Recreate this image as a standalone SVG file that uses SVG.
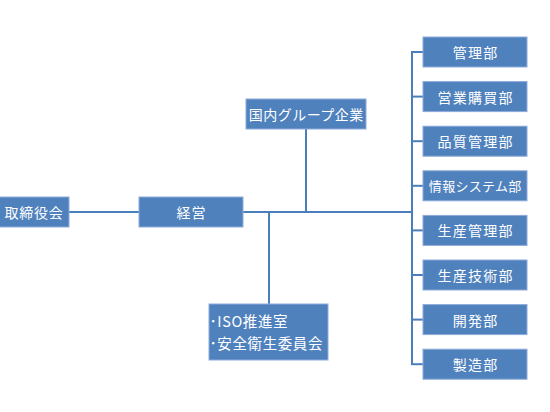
<svg xmlns="http://www.w3.org/2000/svg" width="550" height="412" viewBox="0 0 550 412">
<style>
.box{fill:#4F81BD;stroke:#8EAADB;stroke-width:1}
.t{font-family:"Noto Sans CJK JP","Noto Sans",sans-serif;font-size:14px;fill:#fff;text-anchor:middle;dominant-baseline:central}
.d{letter-spacing:1.2px}
.tl{font-family:"Noto Sans CJK JP","Noto Sans",sans-serif;font-size:14.5px;letter-spacing:0.6px;fill:#fff;dominant-baseline:central}
.ln{stroke:#4A7EBB;stroke-width:2;fill:none}
</style>
<rect width="550" height="412" fill="#fff"/>
<g id="connectors">
<line class="ln" x1="69" y1="212" x2="139" y2="212"/>
<line class="ln" x1="243" y1="212" x2="412" y2="212"/>
<line class="ln" x1="306" y1="129" x2="306" y2="212"/>
<line class="ln" x1="269" y1="212" x2="269" y2="304"/>
<line class="ln" x1="412" y1="52" x2="412" y2="364"/>
<line class="ln" x1="411" y1="52" x2="423" y2="52"/>
<line class="ln" x1="411" y1="96.6" x2="423" y2="96.6"/>
<line class="ln" x1="411" y1="141.2" x2="423" y2="141.2"/>
<line class="ln" x1="411" y1="185.8" x2="423" y2="185.8"/>
<line class="ln" x1="411" y1="230.4" x2="423" y2="230.4"/>
<line class="ln" x1="411" y1="275" x2="423" y2="275"/>
<line class="ln" x1="411" y1="319.6" x2="423" y2="319.6"/>
<line class="ln" x1="411" y1="364.2" x2="423" y2="364.2"/>
</g>
<g id="torishimariyakukai"><rect class="box" x="-1" y="197" width="70" height="30"/><text class="t" x="34" y="212" style="letter-spacing:0.8px">取締役会</text></g>
<g id="keiei"><rect class="box" x="139" y="197" width="104" height="30"/><text class="t" x="191.5" y="212" style="letter-spacing:1px">経営</text></g>
<g id="kokunai"><rect class="box" x="246" y="99" width="120" height="30"/><text class="t" x="306.3" y="114" style="letter-spacing:0.5px">国内グループ企業</text></g>
<g id="iso"><rect class="box" x="209" y="304" width="119" height="56"/><text class="tl" x="209.5" y="320">･ISO推進室</text><text class="tl" x="209.5" y="342.5">･安全衛生委員会</text></g>
<g id="kanri"><rect class="box" x="423" y="37" width="104" height="30"/><text class="t d" x="475.6" y="52">管理部</text></g>
<g id="eigyo"><rect class="box" x="423" y="81.6" width="104" height="30"/><text class="t d" x="475.6" y="96.6">営業購買部</text></g>
<g id="hinshitsu"><rect class="box" x="423" y="126.2" width="104" height="30"/><text class="t d" x="475.6" y="141.2">品質管理部</text></g>
<g id="joho"><rect class="box" x="423" y="170.8" width="104" height="30"/><text class="t" x="475.2" y="185.8" style="font-size:13px;letter-spacing:0.3px">情報システム部</text></g>
<g id="seisankanri"><rect class="box" x="423" y="215.4" width="104" height="30"/><text class="t d" x="475.6" y="230.4">生産管理部</text></g>
<g id="seisangijutsu"><rect class="box" x="423" y="260" width="104" height="30"/><text class="t d" x="475.6" y="275">生産技術部</text></g>
<g id="kaihatsu"><rect class="box" x="423" y="304.6" width="104" height="30"/><text class="t d" x="475.6" y="319.6">開発部</text></g>
<g id="seizo"><rect class="box" x="423" y="349.2" width="104" height="30"/><text class="t d" x="475.6" y="364.2">製造部</text></g>
</svg>
